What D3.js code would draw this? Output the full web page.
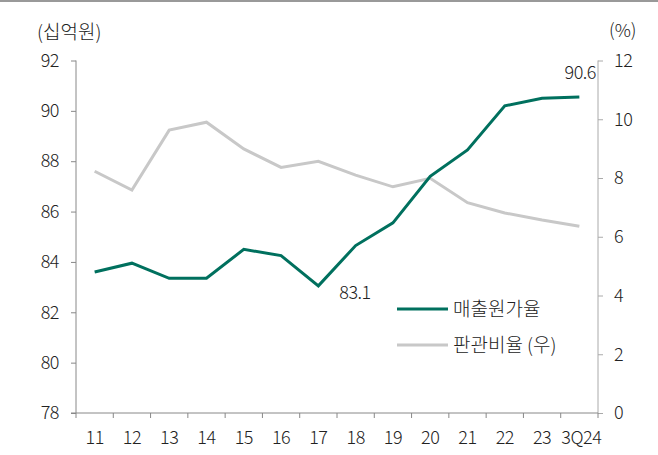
<!DOCTYPE html>
<html>
<head>
<meta charset="utf-8">
<script src="https://cdn.jsdelivr.net/npm/d3@7"></script>
<style>
  body { margin: 0; background: #fff; }
  svg text { font-family: "Noto Sans CJK KR", "Noto Sans", sans-serif; fill: #222; font-weight: 300; }
  .axis text { font-size: 18px; letter-spacing: -0.5px; }
  .axis line, .axis path { stroke: #888; }
  .axis-r line, .axis-r path { stroke: #aaa; }
</style>
</head>
<body>
<svg id="chart"></svg>
<script>
// categories
const periods = ['11','12','13','14','15','16','17','18','19','20','21','22','23','3Q24'];
// 매출원가율 (left axis, 십억원)
const costRatio = [83.6, 83.95, 83.35, 83.35, 84.5, 84.25, 83.05, 84.65, 85.55, 87.4, 88.45, 90.2, 90.5, 90.55];
// 판관비율 (right axis, %)
const sgaRatio = [8.23, 7.59, 9.63, 9.9, 8.99, 8.36, 8.57, 8.1, 7.7, 7.99, 7.16, 6.81, 6.57, 6.36];
const leftTicks = [78, 80, 82, 84, 86, 88, 90, 92];
const rightTicks = [0, 2, 4, 6, 8, 10, 12];

const W = 658, H = 455;
const margin = { left: 76, right: 60, top: 60.5, bottom: 42 };
const innerW = W - margin.left - margin.right;
const innerH = H - margin.top - margin.bottom;

const svg = d3.select('#chart').attr('width', W).attr('height', H);

// top border
svg.append('rect').attr('x', 0).attr('y', 0).attr('width', W).attr('height', 2).attr('fill', '#999');

const chart = svg.append('g').attr('transform', `translate(${margin.left},${margin.top})`);

const x = d3.scaleBand().domain(periods).range([0, innerW]);
const yL = d3.scaleLinear().domain([78, 92]).range([innerH, 0]);
const yR = d3.scaleLinear().domain([0, 12]).range([innerH, 0]);

// left axis
const gL = chart.append('g').attr('class', 'axis')
    .call(d3.axisLeft(yL).tickValues(leftTicks).tickSize(5).tickPadding(12));
gL.select('.domain').attr('d', `M0,0V${innerH}`);

// right axis
const gR = chart.append('g').attr('class', 'axis axis-r')
    .attr('transform', `translate(${innerW},0)`)
    .call(d3.axisRight(yR).tickValues(rightTicks).tickSize(5).tickPadding(11));
gR.select('.domain').attr('d', `M0,0V${innerH}`);

// bottom axis: ticks at band boundaries
const gB = chart.append('g').attr('class', 'axis')
    .attr('transform', `translate(0,${innerH})`);
gB.append('line').attr('x1', -5).attr('x2', innerW).attr('y1', 0).attr('y2', 0).attr('stroke', '#888');
gB.selectAll('.tk').data(periods.concat(['end'])).join('line')
    .attr('class', 'tk')
    .attr('x1', (d, i) => i * x.bandwidth()).attr('x2', (d, i) => i * x.bandwidth())
    .attr('y1', 0).attr('y2', 5).attr('stroke', '#888');
gB.selectAll('.lbl').data(periods).join('text')
    .attr('class', 'lbl')
    .attr('x', d => x(d) + x.bandwidth() / 2 + (d === '3Q24' ? 2 : 0))
    .attr('y', 31)
    .attr('text-anchor', 'middle')
    .text(d => d);

// lines
const lineL = d3.line().x((d, i) => x(periods[i]) + x.bandwidth() / 2).y(d => yL(d));
const lineR = d3.line().x((d, i) => x(periods[i]) + x.bandwidth() / 2).y(d => yR(d));

chart.append('path').datum(sgaRatio)
    .attr('d', lineR).attr('fill', 'none').attr('stroke', '#c8c8c8').attr('stroke-width', 3);
chart.append('path').datum(costRatio)
    .attr('d', lineL).attr('fill', 'none').attr('stroke', '#00705e').attr('stroke-width', 3);

// value labels
chart.append('text')
    .attr('x', x('17') + x.bandwidth() / 2 + 21).attr('y', yL(costRatio[6]) + 13)
    .attr('font-size', 18).style('letter-spacing', '-0.5px').text('83.1');
chart.append('text')
    .attr('x', innerW - 2).attr('y', yL(costRatio[13]) - 18)
    .attr('text-anchor', 'end').attr('font-size', 18).style('letter-spacing', '-0.5px').text('90.6');

// unit labels
svg.append('text').attr('x', 37).attr('y', 39).attr('font-size', 19).text('(십억원)');
svg.append('text').attr('x', 609).attr('y', 37).attr('font-size', 18).text('(%)');

// legend
const legend = svg.append('g').attr('transform', 'translate(397,309)');
const items = [{ name: '매출원가율', color: '#00705e' }, { name: '판관비율 (우)', color: '#c8c8c8' }];
items.forEach((it, i) => {
    const g = legend.append('g').attr('transform', `translate(0,${i * 36})`);
    g.append('line').attr('x1', 0).attr('x2', 51).attr('y1', 0).attr('y2', 0)
        .attr('stroke', it.color).attr('stroke-width', 3);
    g.append('text').attr('x', 56).attr('y', 7).attr('font-size', 19).text(it.name);
});
</script>
</body>
</html>
